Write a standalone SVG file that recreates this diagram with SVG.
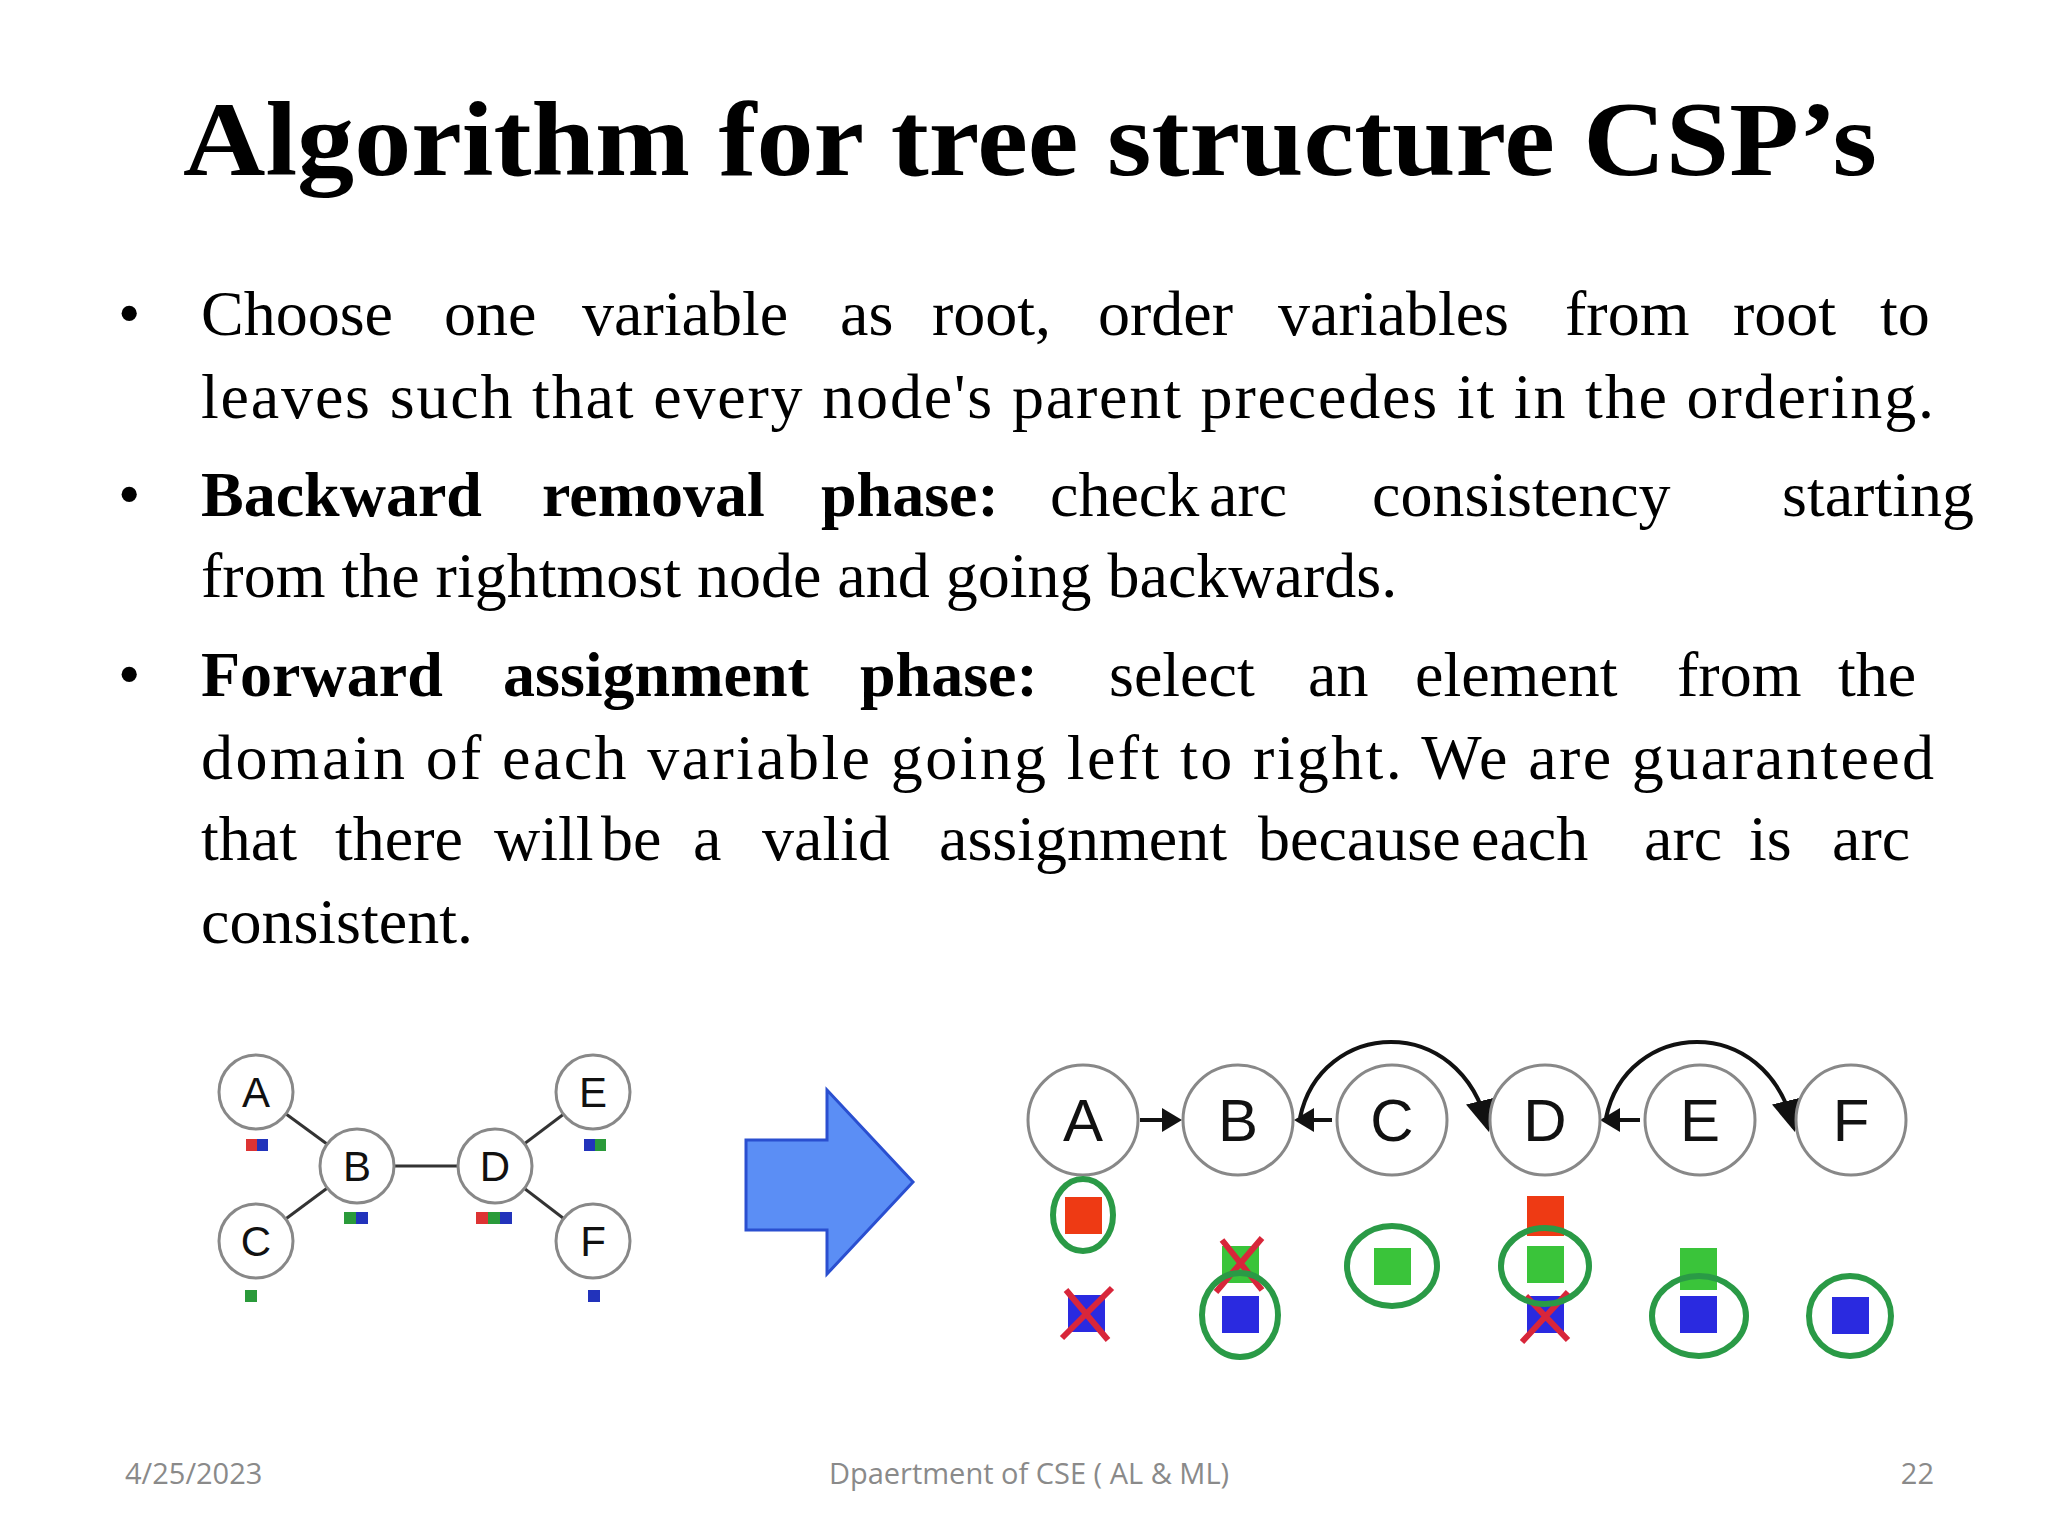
<svg xmlns="http://www.w3.org/2000/svg" width="2048" height="1536" viewBox="0 0 2048 1536">
<style>
.t{font-family:"Liberation Serif",serif;font-size:64px;fill:#000}
.b{font-weight:bold}
.f{font-family:"Open Sans","Liberation Sans",sans-serif;font-size:29px;fill:#8a8a8a}
.n{fill:#fff;stroke:#888;stroke-width:3}
.nl{font-family:"Liberation Sans",sans-serif;fill:#111;text-anchor:middle}
.e{stroke:#333;stroke-width:3;fill:none}
.a{stroke:#111;stroke-width:4;fill:none}
.g{fill:none;stroke:#2a9a46;stroke-width:6}
.x{stroke:#d8263a;stroke-width:6}
</style>
<defs>
<marker id="ah" markerWidth="8" markerHeight="8" refX="7" refY="4" orient="auto" markerUnits="strokeWidth"><path d="M0,0 L8,4 L0,8 z" fill="#111"/></marker>
<marker id="ah2" markerWidth="5" markerHeight="6" refX="4" refY="3" orient="auto" markerUnits="strokeWidth"><path d="M0,0 L5,3 L0,6 z" fill="#111"/></marker>
</defs>
<rect width="2048" height="1536" fill="#fff"/>
<text x="1030" y="175" text-anchor="middle" font-family="Liberation Serif,serif" font-weight="bold" font-size="106" textLength="1694" lengthAdjust="spacingAndGlyphs">Algorithm for tree structure CSP’s</text>
<g class="t">
<text x="118" y="335">•</text><text x="118" y="516">•</text><text x="118" y="696">•</text>
<text x="201" y="335">Choose</text><text x="444" y="335">one</text><text x="582" y="335">variable</text><text x="840" y="335">as</text><text x="932" y="335">root,</text><text x="1098" y="335">order</text><text x="1278" y="335">variables</text><text x="1565" y="335">from</text><text x="1733" y="335">root</text><text x="1880" y="335">to</text>
<text x="201" y="418" textLength="1733" lengthAdjust="spacing">leaves such that every node's parent precedes it in the ordering.</text>
<text x="201" y="516" class="b">Backward</text><text x="542" y="516" class="b">removal</text><text x="821" y="516" class="b">phase:</text><text x="1050" y="516">check</text><text x="1209" y="516">arc</text><text x="1372" y="516">consistency</text><text x="1782" y="516">starting</text>
<text x="201" y="597">from the rightmost node and going backwards.</text>
<text x="201" y="696" class="b">Forward</text><text x="503" y="696" class="b">assignment</text><text x="860" y="696" class="b">phase:</text><text x="1109" y="696">select</text><text x="1308" y="696">an</text><text x="1415" y="696">element</text><text x="1677" y="696">from</text><text x="1838" y="696">the</text>
<text x="201" y="779" textLength="1733" lengthAdjust="spacing">domain of each variable going left to right. We are guaranteed</text>
<text x="201" y="860">that</text><text x="335" y="860">there</text><text x="494" y="860">will</text><text x="601" y="860">be</text><text x="693" y="860">a</text><text x="762" y="860">valid</text><text x="939" y="860">assignment</text><text x="1258" y="860">because</text><text x="1471" y="860">each</text><text x="1644" y="860">arc</text><text x="1749" y="860">is</text><text x="1832" y="860">arc</text>
<text x="201" y="943">consistent.</text>
</g>
<g id="left-edges">
<line class="e" x1="256" y1="1092" x2="357" y2="1166"/><line class="e" x1="256" y1="1241" x2="357" y2="1166"/>
<line class="e" x1="357" y1="1166" x2="495" y2="1166"/><line class="e" x1="495" y1="1166" x2="593" y2="1092"/><line class="e" x1="495" y1="1166" x2="593" y2="1241"/>
</g>
<g id="lA"><circle class="n" cx="256" cy="1092" r="37"/><text class="nl" x="256" y="1107" font-size="42">A</text><rect x="246" y="1139" width="11" height="12" fill="#d33"/><rect x="257" y="1139" width="11" height="12" fill="#2233bb"/></g>
<g id="lB"><circle class="n" cx="357" cy="1166" r="37"/><text class="nl" x="357" y="1181" font-size="42">B</text><rect x="344" y="1212" width="12" height="12" fill="#2a9a3a"/><rect x="356" y="1212" width="12" height="12" fill="#2233bb"/></g>
<g id="lC"><circle class="n" cx="256" cy="1241" r="37"/><text class="nl" x="256" y="1256" font-size="42">C</text><rect x="245" y="1290" width="12" height="12" fill="#2a9a3a"/></g>
<g id="lD"><circle class="n" cx="495" cy="1166" r="37"/><text class="nl" x="495" y="1181" font-size="42">D</text><rect x="476" y="1212" width="12" height="12" fill="#d33"/><rect x="488" y="1212" width="12" height="12" fill="#2a9a3a"/><rect x="500" y="1212" width="12" height="12" fill="#2233bb"/></g>
<g id="lE"><circle class="n" cx="593" cy="1092" r="37"/><text class="nl" x="593" y="1107" font-size="42">E</text><rect x="584" y="1139" width="11" height="12" fill="#2233bb"/><rect x="595" y="1139" width="11" height="12" fill="#2a9a3a"/></g>
<g id="lF"><circle class="n" cx="593" cy="1241" r="37"/><text class="nl" x="593" y="1256" font-size="42">F</text><rect x="588" y="1290" width="12" height="12" fill="#2233bb"/></g>
<g id="bigarrow"><polygon points="746,1140 827,1140 827,1090 913,1182 827,1274 827,1230 746,1230" fill="#5b8ef5" stroke="#2a4fd0" stroke-width="3"/></g>
<g id="connectors">
<line class="a" x1="1140" y1="1120" x2="1178" y2="1120" marker-end="url(#ah2)"/>
<line class="a" x1="1332" y1="1120" x2="1298" y2="1120" marker-end="url(#ah2)"/>
<line class="a" x1="1640" y1="1120" x2="1604" y2="1120" marker-end="url(#ah2)"/>
<path class="a" d="M1300,1118 C1320,1020 1460,1010 1488,1128" marker-end="url(#ah)"/>
<path class="a" d="M1606,1118 C1626,1020 1766,1010 1794,1128" marker-end="url(#ah)"/>
</g>
<g id="rA"><circle class="n" cx="1083" cy="1120" r="55"/><text class="nl" x="1083" y="1141" font-size="60">A</text>
<rect x="1065" y="1197" width="37" height="37" fill="#ee3a14"/><ellipse class="g" cx="1083" cy="1215" rx="30" ry="36"/>
<rect x="1068" y="1295" width="37" height="37" fill="#2a2ae0"/><path class="x" d="M1062,1338 L1112,1288 M1066,1290 L1108,1340"/></g>
<g id="rB"><circle class="n" cx="1238" cy="1120" r="55"/><text class="nl" x="1238" y="1141" font-size="60">B</text>
<rect x="1222" y="1246" width="37" height="37" fill="#3ac43a"/><path class="x" d="M1216,1292 L1262,1238 M1222,1240 L1262,1290"/>
<rect x="1222" y="1296" width="37" height="37" fill="#2a2ae0"/><ellipse class="g" cx="1240" cy="1315" rx="38" ry="42"/></g>
<g id="rC"><circle class="n" cx="1392" cy="1120" r="55"/><text class="nl" x="1392" y="1141" font-size="60">C</text>
<rect x="1374" y="1248" width="37" height="37" fill="#3ac43a"/><ellipse class="g" cx="1392" cy="1266" rx="45" ry="40"/></g>
<g id="rD"><circle class="n" cx="1545" cy="1120" r="55"/><text class="nl" x="1545" y="1141" font-size="60">D</text>
<rect x="1527" y="1196" width="37" height="40" fill="#ee3a14"/><rect x="1527" y="1246" width="37" height="37" fill="#3ac43a"/>
<rect x="1527" y="1296" width="37" height="37" fill="#2a2ae0"/><path class="x" d="M1522,1342 L1568,1292 M1526,1296 L1568,1340"/>
<ellipse class="g" cx="1545" cy="1266" rx="44" ry="38"/></g>
<g id="rE"><circle class="n" cx="1700" cy="1120" r="55"/><text class="nl" x="1700" y="1141" font-size="60">E</text>
<rect x="1680" y="1248" width="37" height="42" fill="#3ac43a"/><rect x="1680" y="1296" width="37" height="37" fill="#2a2ae0"/><ellipse class="g" cx="1699" cy="1316" rx="47" ry="40"/></g>
<g id="rF"><circle class="n" cx="1851" cy="1120" r="55"/><text class="nl" x="1851" y="1141" font-size="60">F</text>
<rect x="1832" y="1297" width="37" height="37" fill="#2a2ae0"/><ellipse class="g" cx="1850" cy="1316" rx="41" ry="40"/></g>
<text class="f" x="125" y="1484">4/25/2023</text>
<text class="f" x="1029" y="1484" text-anchor="middle">Dpaertment of CSE ( AL &amp; ML)</text>
<text class="f" x="1934" y="1484" text-anchor="end">22</text>
</svg>
